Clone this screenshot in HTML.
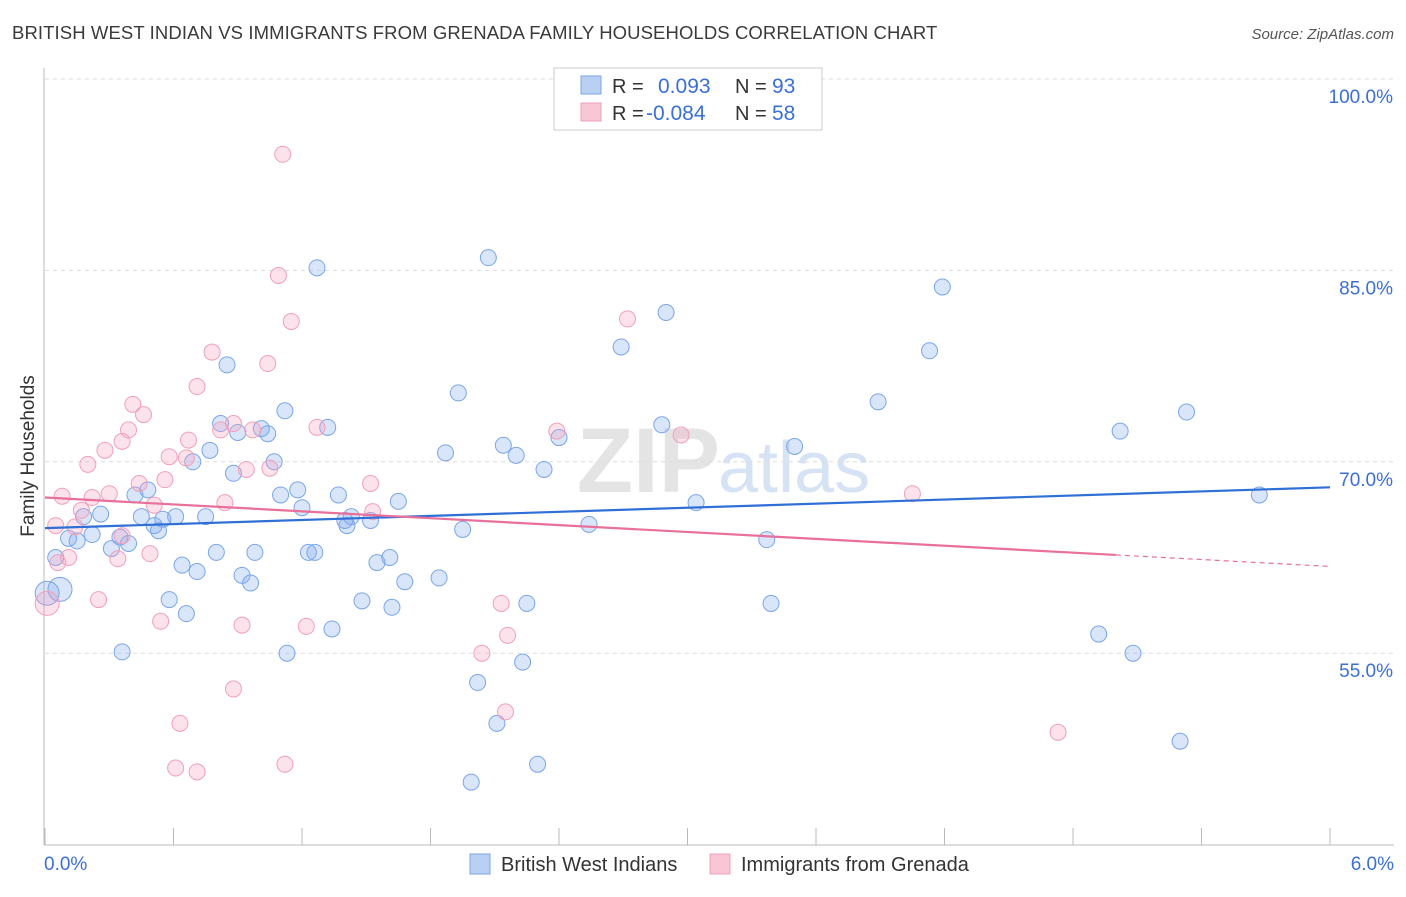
<!DOCTYPE html>
<html><head><meta charset="utf-8"><style>
body{margin:0;background:#fff;font-family:"Liberation Sans",sans-serif;}
svg text{font-family:"Liberation Sans",sans-serif;}
</style></head><body>
<svg id="c" width="1406" height="892" xmlns="http://www.w3.org/2000/svg">
<text x="12" y="39" font-size="18.5" letter-spacing="0.1" fill="#3a3a3a">BRITISH WEST INDIAN VS IMMIGRANTS FROM GRENADA FAMILY HOUSEHOLDS CORRELATION CHART</text>
<text x="1394" y="39" font-size="15" fill="#555" text-anchor="end" font-style="italic">Source: ZipAtlas.com</text>
<text x="720" y="492" font-size="92" fill="#e4e4e4" text-anchor="end" font-family="Liberation Serif" font-weight="bold">ZIP</text>
<text x="718" y="492" font-size="72" fill="#d6e3f4">atlas</text>
<g id="grid"></g>
<line x1="44" y1="68" x2="44" y2="845" stroke="#bbb"/>
<line x1="44" y1="845" x2="1394" y2="845" stroke="#bbb"/>
<text transform="translate(34,456) rotate(-90)" font-size="19" fill="#333" text-anchor="middle">Family Households</text>
<text x="44" y="870" font-size="19" fill="#3a6fd8">0.0%</text>
<text x="1394" y="870" font-size="19" fill="#3a6fd8" text-anchor="end">6.0%</text>
<g id="pts"></g>
<g id="trends"></g>
<g>
<rect x="554" y="68" width="268" height="62" fill="#fff" stroke="#ccc"/>
<rect x="581" y="76" width="20" height="18" fill="#b9d0f3" stroke="#7aa6e8"/>
<rect x="581" y="103" width="20" height="18" fill="#f9c6d5" stroke="#f0a0bb"/>
<text x="612" y="93" font-size="20" fill="#333">R = </text><text x="658" y="93" font-size="21" fill="#3a6fd8">0.093</text>
<text x="735" y="93" font-size="20" fill="#333">N = </text><text x="772" y="93" font-size="21" fill="#3a6fd8">93</text>
<text x="612" y="120" font-size="20" fill="#333">R = </text><text x="646" y="120" font-size="21" fill="#3a6fd8">-0.084</text>
<text x="735" y="120" font-size="20" fill="#333">N = </text><text x="772" y="120" font-size="21" fill="#3a6fd8">58</text>
</g>
<g>
<rect x="470" y="854" width="20" height="20" fill="#b9d0f3" stroke="#7aa6e8"/>
<text x="501" y="871" font-size="20" fill="#333">British West Indians</text>
<rect x="710" y="854" width="20" height="20" fill="#f9c6d5" stroke="#f0a0bb"/>
<text x="741" y="871" font-size="20" fill="#333">Immigrants from Grenada</text>
</g>
</svg>
<script>
const yTicks=[100,85,70,55];
const xTicks=[0,0.6,1.2,1.8,2.4,3.0,3.6,4.2,4.8,5.4,6.0];
const blueX=[2.07,1.27,4.19,2.90,2.69,4.13,0.85,1.93,3.89,5.33,1.12,0.82,1.32,0.90,1.04,1.01,2.40,2.88,5.02,2.14,3.50,0.77,1.87,2.20,0.69,1.07,2.33,0.88,0.48,0.42,1.18,1.10,5.67,3.04,1.65,1.37,1.20,0.26,0.45,0.61,0.75,0.55,1.43,1.52,1.41,1.40,0.51,0.53,0.18,1.95,2.54,0.11,0.22,0.15,0.35,0.39,0.31,3.37,0.05,0.80,0.98,1.26,1.23,1.61,1.55,0.64,0.71,0.92,0.96,1.68,1.84,0.07,0.01,0.58,1.48,1.62,2.25,3.39,0.66,1.34,4.92,0.36,1.13,5.08,2.23,2.02,2.11,2.30,1.99,5.30];
const blueY=[86.0,85.2,83.7,81.7,79.0,78.7,77.6,75.4,74.7,73.9,74.0,73.0,72.7,72.3,72.2,72.6,71.9,72.9,72.4,71.3,71.2,70.9,70.7,70.5,70.0,70.0,69.4,69.1,67.8,67.4,67.8,67.4,67.4,66.8,66.9,67.4,66.4,65.9,65.7,65.7,65.7,65.5,65.7,65.4,65.0,65.4,65.0,64.6,65.7,64.7,65.1,64.0,64.3,63.8,64.1,63.6,63.2,63.9,62.5,62.9,62.9,62.9,62.9,62.5,62.1,61.9,61.4,61.1,60.5,60.6,60.9,60.0,59.7,59.2,59.1,58.6,58.9,58.9,58.1,56.9,56.5,55.1,55.0,55.0,54.3,52.7,49.5,46.3,44.9,48.1];
const pinkX=[1.11,1.09,1.15,2.72,0.78,1.04,0.71,0.41,0.46,0.39,0.36,0.88,0.82,0.97,1.27,2.39,2.97,0.67,0.28,0.20,0.58,0.66,0.94,1.05,0.56,0.44,1.52,0.08,0.22,0.30,0.84,0.51,4.05,0.17,0.05,0.14,0.36,1.53,0.49,0.34,0.11,0.06,0.25,0.01,0.54,0.92,1.22,2.13,2.16,2.04,0.88,0.63,2.15,4.73,0.61,0.71,1.12];
const pinkY=[94.1,84.6,81.0,81.2,78.6,77.7,75.9,74.5,73.7,72.5,71.6,73.0,72.5,72.5,72.7,72.4,72.1,71.7,70.9,69.8,70.4,70.3,69.4,69.5,68.6,68.3,68.3,67.3,67.2,67.5,66.8,66.6,67.5,66.2,65.0,64.9,64.2,66.1,62.8,62.4,62.5,62.1,59.2,58.9,57.5,57.2,57.1,58.9,56.4,55.0,52.2,49.5,50.4,48.8,46.0,45.7,46.3];
const blueTrend=[64.8,68.0];
const pinkTrend=[67.2,61.8];
const pinkSolidEnd=5.0;
const sx=v=>45+v*214.17, sy=v=>79+(100-v)*12.76;
const NS='http://www.w3.org/2000/svg';
function mk(t,a,p){const e=document.createElementNS(NS,t);for(const k in a)e.setAttribute(k,a[k]);p.appendChild(e);return e;}
const g=document.getElementById('grid');
yTicks.forEach(v=>{
 const l=mk('line',{x1:45,x2:1394,y1:sy(v),y2:sy(v),stroke:'#ddd','stroke-dasharray':'4,4'},g);
 
 
 const t=mk('text',{x:1393,y:sy(v)+24,'font-size':19,fill:'#3a6fd8','text-anchor':'end'},g);
 t.textContent=v.toFixed(1)+'%';
 
 
});
xTicks.forEach(v=>{
 const l=mk('line',{x1:sx(v),x2:sx(v),y1:828,y2:845,stroke:'#bbb'},g);
 
 
});
const p=document.getElementById('pts');
function pts(X,Y,fill,stroke,name){X.forEach((x,i)=>{
 const big=x<0.1&&Y[i]<61?12:8;
 const c=mk('circle',{cx:sx(x),cy:sy(Y[i]),r:big,fill:fill,stroke:stroke,'stroke-width':1},p);
 
 
});}
pts(blueX,blueY,'rgba(130,170,235,0.3)','#7aa6e8','point-british-west-indian');
pts(pinkX,pinkY,'rgba(245,160,190,0.3)','#f0a0bb','point-grenada');
const tr=document.getElementById('trends');
const bl=mk('line',{x1:sx(0),y1:sy(blueTrend[0]),x2:sx(6),y2:sy(blueTrend[1]),stroke:'#2f6fd6','stroke-width':2.2},tr);


const pe=pinkTrend[0]+(pinkTrend[1]-pinkTrend[0])*pinkSolidEnd/6;
const pl=mk('line',{x1:sx(0),y1:sy(pinkTrend[0]),x2:sx(pinkSolidEnd),y2:sy(pe),stroke:'#e8709a','stroke-width':2.2},tr);


const pd=mk('line',{x1:sx(pinkSolidEnd),y1:sy(pe),x2:sx(6),y2:sy(pinkTrend[1]),stroke:'#e8709a','stroke-width':1.2,'stroke-dasharray':'5,4'},tr);


</script>
</body></html>
